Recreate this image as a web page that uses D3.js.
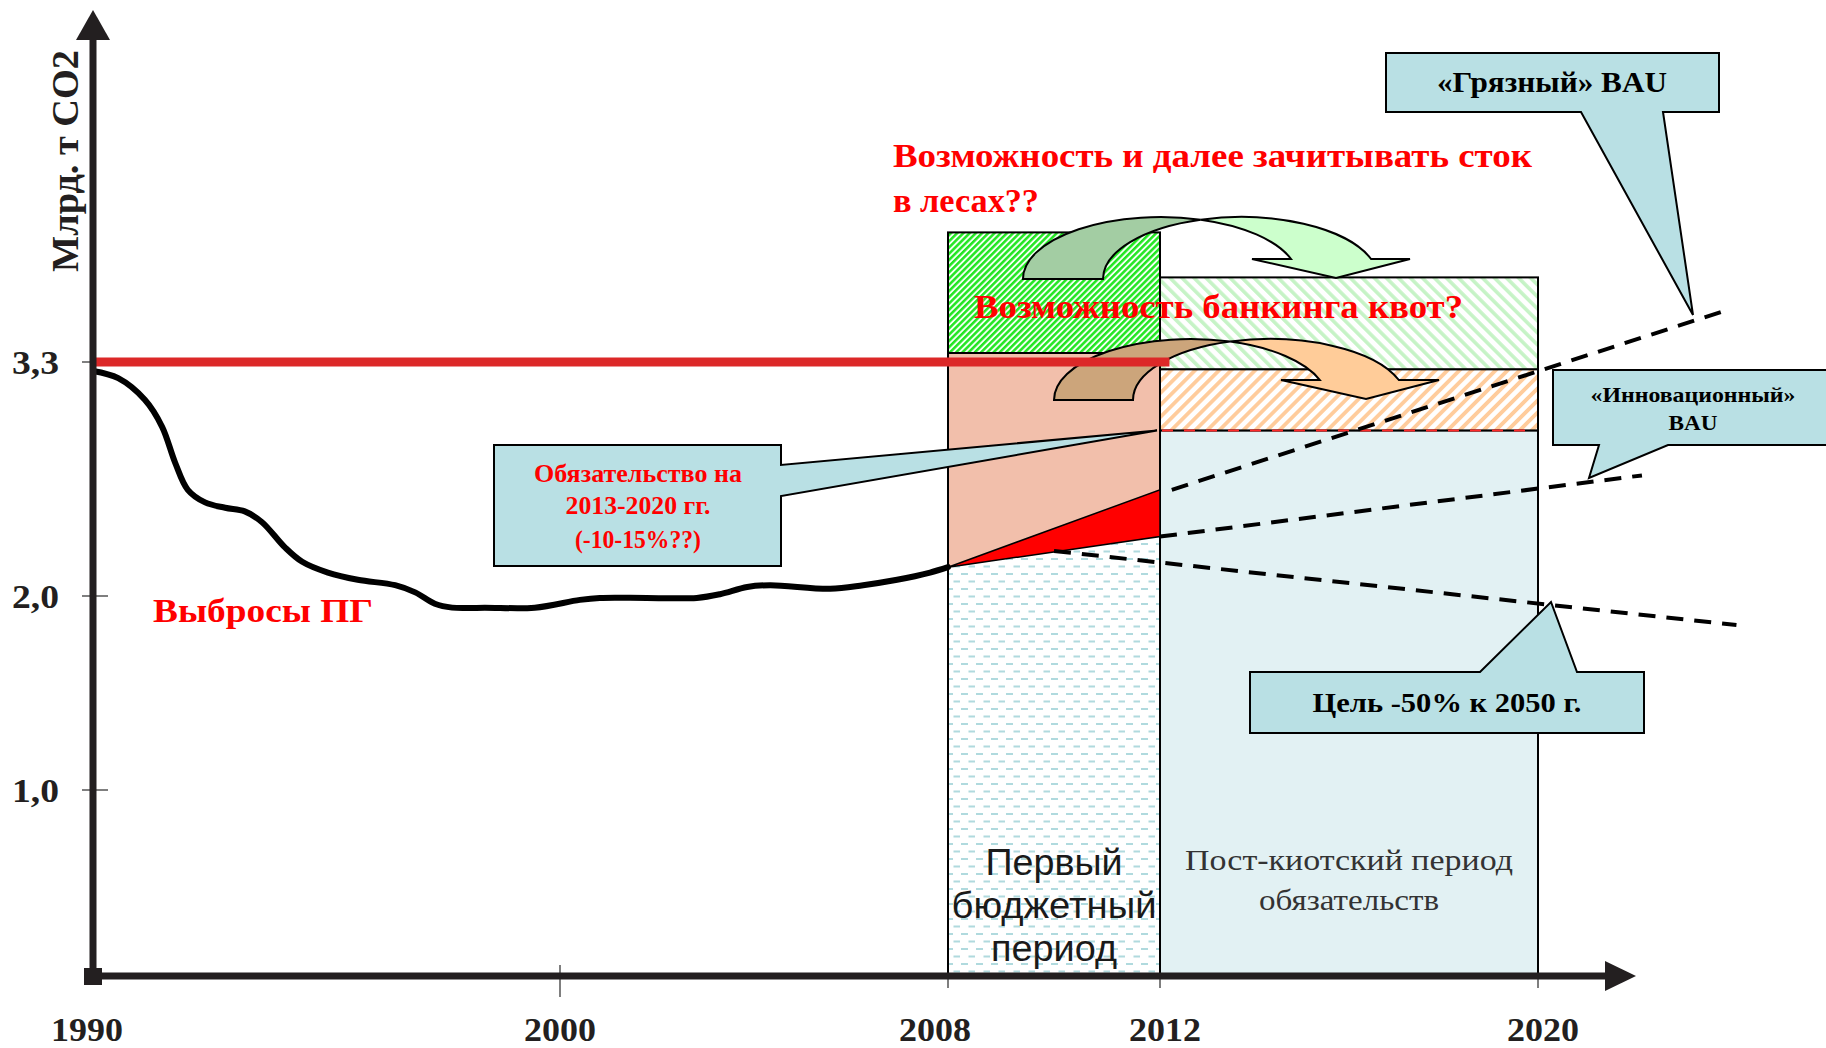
<!DOCTYPE html>
<html>
<head>
<meta charset="utf-8">
<script src="https://cdn.jsdelivr.net/npm/d3@7"></script>
<style>
  html, body { margin: 0; padding: 0; background: #fff; }
  svg { display: block; }
</style>
</head>
<body>
<svg id="chart" width="1826" height="1048"></svg>
<script>
// ---------------- DATA ----------------
const xTickYears = [1990, 2000, 2008, 2012, 2020];
const xTickLabels = ["1990", "2000", "2008", "2012", "2020"];
const yTickValues = [1.0, 2.0, 3.3];
const yTickLabels = ["1,0", "2,0", "3,3"];

// historical emissions (Gt CO2)
const emissionYears = [1990, 1990.54, 1991.11, 1991.48, 1991.76, 1992.03, 1992.4, 1992.83, 1993.25, 1993.62,
  1994.11, 1994.48, 1995.03, 1995.67, 1996.47, 1996.9, 1997.32, 1997.69, 1998.39, 1999.46,
  2000.41, 2000.82, 2001.79, 2002.82, 2003.3, 2003.86, 2004.33, 2005.57, 2006.25, 2006.95, 2007.63, 2008];
const emissionValues = [3.25, 3.21, 3.09, 2.94, 2.74, 2.59, 2.52, 2.49, 2.47, 2.41,
  2.27, 2.19, 2.13, 2.09, 2.06, 2.02, 1.96, 1.94, 1.94, 1.94,
  1.98, 1.99, 1.99, 1.99, 2.01, 2.05, 2.06, 2.04, 2.06, 2.09, 2.13, 2.16];

const kyotoLevel = 3.3;
const firstPeriodYears = [2008, 2012];
const firstPeriodLevels = [3.35, 4.02];          // budget, budget + forest sink
const postPeriodYears = [2012, 2020];
const postPeriodLevels = [2.92, 3.26, 3.77];     // commitment, + banking, + forest sink

const gapYears = [2008, 2012, 2012];
const gapValues = [2.16, 2.59, 2.33];

const dirtyYears = [2012.25, 2023.9];
const dirtyValues = [2.59, 3.58];
const innovYears = [2012, 2022.2];
const innovValues = [2.33, 2.67];
const targetYears = [2010, 2024.2];
const targetValues = [2.25, 1.85];

// ---------------- SCALES ----------------
const x = d3.scaleLinear().domain([1990, 2000, 2008, 2012, 2020]).range([93, 560, 948, 1160, 1538]);
const y = d3.scaleLinear().domain([0, 1, 2, 3.3]).range([976, 790, 596, 362]);

const svg = d3.select("#chart");
const defs = svg.append("defs");
const SERIF = "'Liberation Serif', 'DejaVu Serif', serif";
const SANS = "'Liberation Sans', Arial, sans-serif";

function stripes(id, period, width, color, angle, base) {
  const p = defs.append("pattern").attr("id", id).attr("patternUnits", "userSpaceOnUse")
    .attr("width", period).attr("height", period).attr("patternTransform", `rotate(${angle})`);
  p.append("rect").attr("width", period).attr("height", period).attr("fill", base);
  p.append("rect").attr("width", width).attr("height", period).attr("fill", color);
}
stripes("hGreen", 4.4, 2.5, "#22e622", 45, "#f4fff4");
stripes("hLightGreen", 8.5, 3.6, "#c6f3c6", -45, "#ffffff");
stripes("hOrange", 8.5, 3.8, "#ffcc9c", 45, "#ffffff");
{
  const p = defs.append("pattern").attr("id", "hDots").attr("patternUnits", "userSpaceOnUse")
    .attr("width", 15).attr("height", 15);
  p.append("rect").attr("width", 15).attr("height", 15).attr("fill", "#ffffff");
  p.append("rect").attr("x", 1).attr("y", 3).attr("width", 7).attr("height", 2).attr("fill", "#b0dade");
  p.append("rect").attr("x", 8.5).attr("y", 10.5).attr("width", 7).attr("height", 2).attr("fill", "#b0dade");
}

// ---------------- TICKS ----------------
const gTicks = svg.append("g");
yTickValues.forEach((v) => {
  gTicks.append("line").attr("x1", 82).attr("x2", v === kyotoLevel ? 93 : 108)
    .attr("y1", y(v)).attr("y2", y(v)).attr("stroke", "#555").attr("stroke-width", 1.5);
});
xTickYears.forEach((yr, i) => {
  if (i === 0) return;
  gTicks.append("line").attr("x1", x(yr)).attr("x2", x(yr))
    .attr("y1", 965).attr("y2", i === 1 ? 997 : 988).attr("stroke", "#555").attr("stroke-width", 1.5);
});

// ---------------- BOXES ----------------
const gBox = svg.append("g");
const fx0 = x(firstPeriodYears[0]), fx1 = x(firstPeriodYears[1]);
const px0 = x(postPeriodYears[0]), px1 = x(postPeriodYears[1]);

gBox.append("rect").attr("x", px0).attr("y", y(postPeriodLevels[0]))
  .attr("width", px1 - px0).attr("height", y(0) - y(postPeriodLevels[0]))
  .attr("fill", "#e2f1f3").attr("stroke", "#000").attr("stroke-width", 2);
gBox.append("rect").attr("x", px0).attr("y", y(postPeriodLevels[1]))
  .attr("width", px1 - px0).attr("height", y(postPeriodLevels[0]) - y(postPeriodLevels[1]))
  .attr("fill", "url(#hOrange)").attr("stroke", "#000").attr("stroke-width", 2);
gBox.append("rect").attr("x", px0).attr("y", y(postPeriodLevels[2]))
  .attr("width", px1 - px0).attr("height", y(postPeriodLevels[1]) - y(postPeriodLevels[2]))
  .attr("fill", "url(#hLightGreen)").attr("stroke", "#000").attr("stroke-width", 2);
gBox.append("line").attr("x1", px0 + 2).attr("x2", px1 - 2)
  .attr("y1", y(postPeriodLevels[0])).attr("y2", y(postPeriodLevels[0]))
  .attr("stroke", "#ff2a2a").attr("stroke-width", 2).attr("stroke-dasharray", "11 11");

gBox.append("rect").attr("x", fx0).attr("y", y(firstPeriodLevels[0]))
  .attr("width", fx1 - fx0).attr("height", y(0) - y(firstPeriodLevels[0]))
  .attr("fill", "#f2bfab").attr("stroke", "#000").attr("stroke-width", 2);
gBox.append("path")
  .attr("d", `M${x(gapYears[0])},${y(gapValues[0])} L${x(gapYears[2])},${y(gapValues[2])} L${fx1},${y(0)} L${fx0},${y(0)} Z`)
  .attr("fill", "url(#hDots)");
gBox.append("rect").attr("x", fx0).attr("y", y(firstPeriodLevels[0]))
  .attr("width", fx1 - fx0).attr("height", y(0) - y(firstPeriodLevels[0]))
  .attr("fill", "none").attr("stroke", "#000").attr("stroke-width", 2);
gBox.append("path")
  .attr("d", "M" + gapYears.map((yr, i) => `${x(yr)},${y(gapValues[i])}`).join(" L") + " Z")
  .attr("fill", "#ff0000").attr("stroke", "#000").attr("stroke-width", 1.5);
gBox.append("rect").attr("x", fx0).attr("y", y(firstPeriodLevels[1]))
  .attr("width", fx1 - fx0).attr("height", y(firstPeriodLevels[0]) - y(firstPeriodLevels[1]))
  .attr("fill", "url(#hGreen)").attr("stroke", "#000").attr("stroke-width", 2);

// ---------------- EMISSIONS CURVE ----------------
const line = d3.line().x(d => x(d[0])).y(d => y(d[1])).curve(d3.curveCatmullRom.alpha(0.5));
svg.append("path").datum(emissionYears.map((yr, i) => [yr, emissionValues[i]]))
  .attr("d", line).attr("fill", "none").attr("stroke", "#000").attr("stroke-width", 6)
  .attr("stroke-linecap", "round");

// ---------------- SCENARIO LINES ----------------
const straight = d3.line().x(d => x(d[0])).y(d => y(d[1]));
[[dirtyYears, dirtyValues], [innovYears, innovValues], [targetYears, targetValues]].forEach(([ys, vs]) => {
  svg.append("path").datum(ys.map((yr, i) => [yr, vs[i]])).attr("d", straight)
    .attr("fill", "none").attr("stroke", "#000").attr("stroke-width", 4).attr("stroke-dasharray", "17 11");
});

// ---------------- CALLOUTS ----------------
const CALL = "#b9e0e4";
const gCall = svg.append("g");
function callout(d) {
  gCall.append("path").attr("d", d).attr("fill", CALL).attr("stroke", "#000").attr("stroke-width", 2)
    .attr("stroke-linejoin", "miter");
}
const obTip = [x(postPeriodYears[0]) - 3, y(postPeriodLevels[0])];
callout(`M494,445 H781 V465 L${obTip[0]},${obTip[1]} L781,496 V566 H494 Z`);
callout(`M1386,53 H1719 V112 H1663 L1693,315 L1581,112 H1386 Z`);
callout(`M1553,370 H1840 V445 H1668 L1589,478 L1599,445 H1553 Z`);
callout(`M1250,672 H1480 L1551,602 L1577,672 H1644 V733 H1250 Z`);

// ---------------- CURVED ARROWS ----------------
function curvedArrow(o) {
  const c1 = o.tailL + o.rx, c2 = c1 + o.w;
  const xm = (c1 + c2) / 2;
  const ym = o.baseY - o.ry * Math.sqrt(1 - Math.pow(o.w / 2 / o.rx, 2));
  const k = Math.sqrt(1 - Math.pow((o.baseY - o.headY) / o.ry, 2));
  const innerR = c1 + o.rx * k, outerR = c2 + o.rx * k;
  const g = svg.append("g");
  g.append("path")
    .attr("d", `M${xm},${ym} A${o.rx},${o.ry} 0 0 1 ${outerR},${o.headY} L${o.headR},${o.headY} L${o.tipX},${o.tipY} L${o.headL},${o.headY} L${innerR},${o.headY} A${o.rx},${o.ry} 0 0 0 ${xm},${ym} Z`)
    .attr("fill", o.light).attr("stroke", "#000").attr("stroke-width", 2).attr("stroke-linejoin", "miter");
  g.append("path")
    .attr("d", `M${o.tailL},${o.baseY} A${o.rx},${o.ry} 0 0 1 ${xm},${ym} A${o.rx},${o.ry} 0 0 0 ${c2 - o.rx},${o.baseY} Z`)
    .attr("fill", o.dark).attr("stroke", "#000").attr("stroke-width", 2).attr("stroke-linejoin", "miter");
}
curvedArrow({ tailL: 1023, w: 80, baseY: 279, rx: 137.7, ry: 62, headY: 259, headL: 1252, headR: 1410,
  tipX: 1336, tipY: 278, dark: "#a3cda3", light: "#ccffcc" });
curvedArrow({ tailL: 1054, w: 79, baseY: 400, rx: 136.7, ry: 61, headY: 380, headL: 1281, headR: 1439,
  tipX: 1366, tipY: 399, dark: "#cca57b", light: "#ffcc99" });

// ---------------- KYOTO LEVEL LINE ----------------
svg.append("line").attr("x1", x(1990)).attr("x2", x(2012.2)).attr("y1", y(kyotoLevel)).attr("y2", y(kyotoLevel))
  .attr("stroke", "#dc2828").attr("stroke-width", 9);

// ---------------- AXES ----------------
const AX = "#231f20";
svg.append("line").attr("x1", x(1990)).attr("x2", x(1990)).attr("y1", 38).attr("y2", 980)
  .attr("stroke", AX).attr("stroke-width", 7);
svg.append("path").attr("d", `M${x(1990)},10 L${x(1990) - 17},40 L${x(1990) + 17},40 Z`).attr("fill", AX);
svg.append("line").attr("x1", 88).attr("x2", 1607).attr("y1", y(0)).attr("y2", y(0))
  .attr("stroke", AX).attr("stroke-width", 7);
svg.append("path").attr("d", `M1636,${y(0)} L1605,${y(0) - 15} L1605,${y(0) + 15} Z`).attr("fill", AX);
svg.append("rect").attr("x", x(1990) - 9).attr("y", y(0) - 8).attr("width", 18).attr("height", 17).attr("fill", AX);

// ---------------- TEXT ----------------
function txt(px, py, s, o) {
  const t = svg.append("text").attr("x", px).attr("y", py).text(s)
    .attr("font-family", o.family || SERIF).attr("font-size", o.size)
    .attr("font-weight", o.weight || "bold").attr("fill", o.fill || "#000")
    .attr("text-anchor", o.anchor || "middle");
  if (o.len) t.attr("textLength", o.len).attr("lengthAdjust", "spacingAndGlyphs");
  if (o.transform) t.attr("transform", o.transform);
  return t;
}

// tick labels (small horizontal nudges as in the original layout)
const xLabelNudge = [-6, 0, -13, 5, 5];
xTickYears.forEach((yr, i) => txt(x(yr) + xLabelNudge[i], 1041, xTickLabels[i], { size: 34, fill: "#231f20", len: 72 }));
yTickValues.forEach((v, i) => txt(59, y(v) + 12, yTickLabels[i], { size: 34, anchor: "end", fill: "#231f20", len: 47 }));

// y axis title
txt(0, 0, "Млрд. т CO2", { size: 38, fill: "#231f20", len: 222, transform: "translate(78,161) rotate(-90)" });

// red annotations
txt(893, 167, "Возможность и далее зачитывать сток", { size: 33, fill: "#ff0000", anchor: "start", len: 639 });
txt(893, 212, "в лесах??", { size: 33, fill: "#ff0000", anchor: "start", len: 146 });
txt(974, 318, "Возможность банкинга квот?", { size: 33, fill: "#ff0000", anchor: "start", len: 489 });
txt(153, 622, "Выбросы ПГ", { size: 34, fill: "#ff0000", anchor: "start", len: 220 });

// callout texts
txt(638, 482, "Обязательство на", { size: 25, fill: "#ff0000", len: 208 });
txt(638, 514, "2013-2020 гг.", { size: 25, fill: "#ff0000", len: 145 });
txt(638, 548, "(-10-15%??)", { size: 25, fill: "#ff0000", len: 126 });
txt(1552, 92, "«Грязный» BAU", { size: 29, len: 230 });
txt(1693, 402, "«Инновационный»", { size: 22, len: 205 });
txt(1693, 430, "BAU", { size: 22, len: 49 });
txt(1447, 712, "Цель -50% к 2050 г.", { size: 27, len: 269 });

// period labels
txt((fx0 + fx1) / 2, 875, "Первый", { family: SANS, size: 37, weight: "normal", fill: "#1a1a1a", len: 137 });
txt((fx0 + fx1) / 2, 918, "бюджетный", { family: SANS, size: 37, weight: "normal", fill: "#1a1a1a", len: 205 });
txt((fx0 + fx1) / 2, 961, "период", { family: SANS, size: 37, weight: "normal", fill: "#1a1a1a", len: 126 });
txt((px0 + px1) / 2, 870, "Пост-киотский период", { size: 29, weight: "normal", fill: "#333", len: 328 });
txt((px0 + px1) / 2, 910, "обязательств", { size: 29, weight: "normal", fill: "#333", len: 180 });
</script>
</body>
</html>
